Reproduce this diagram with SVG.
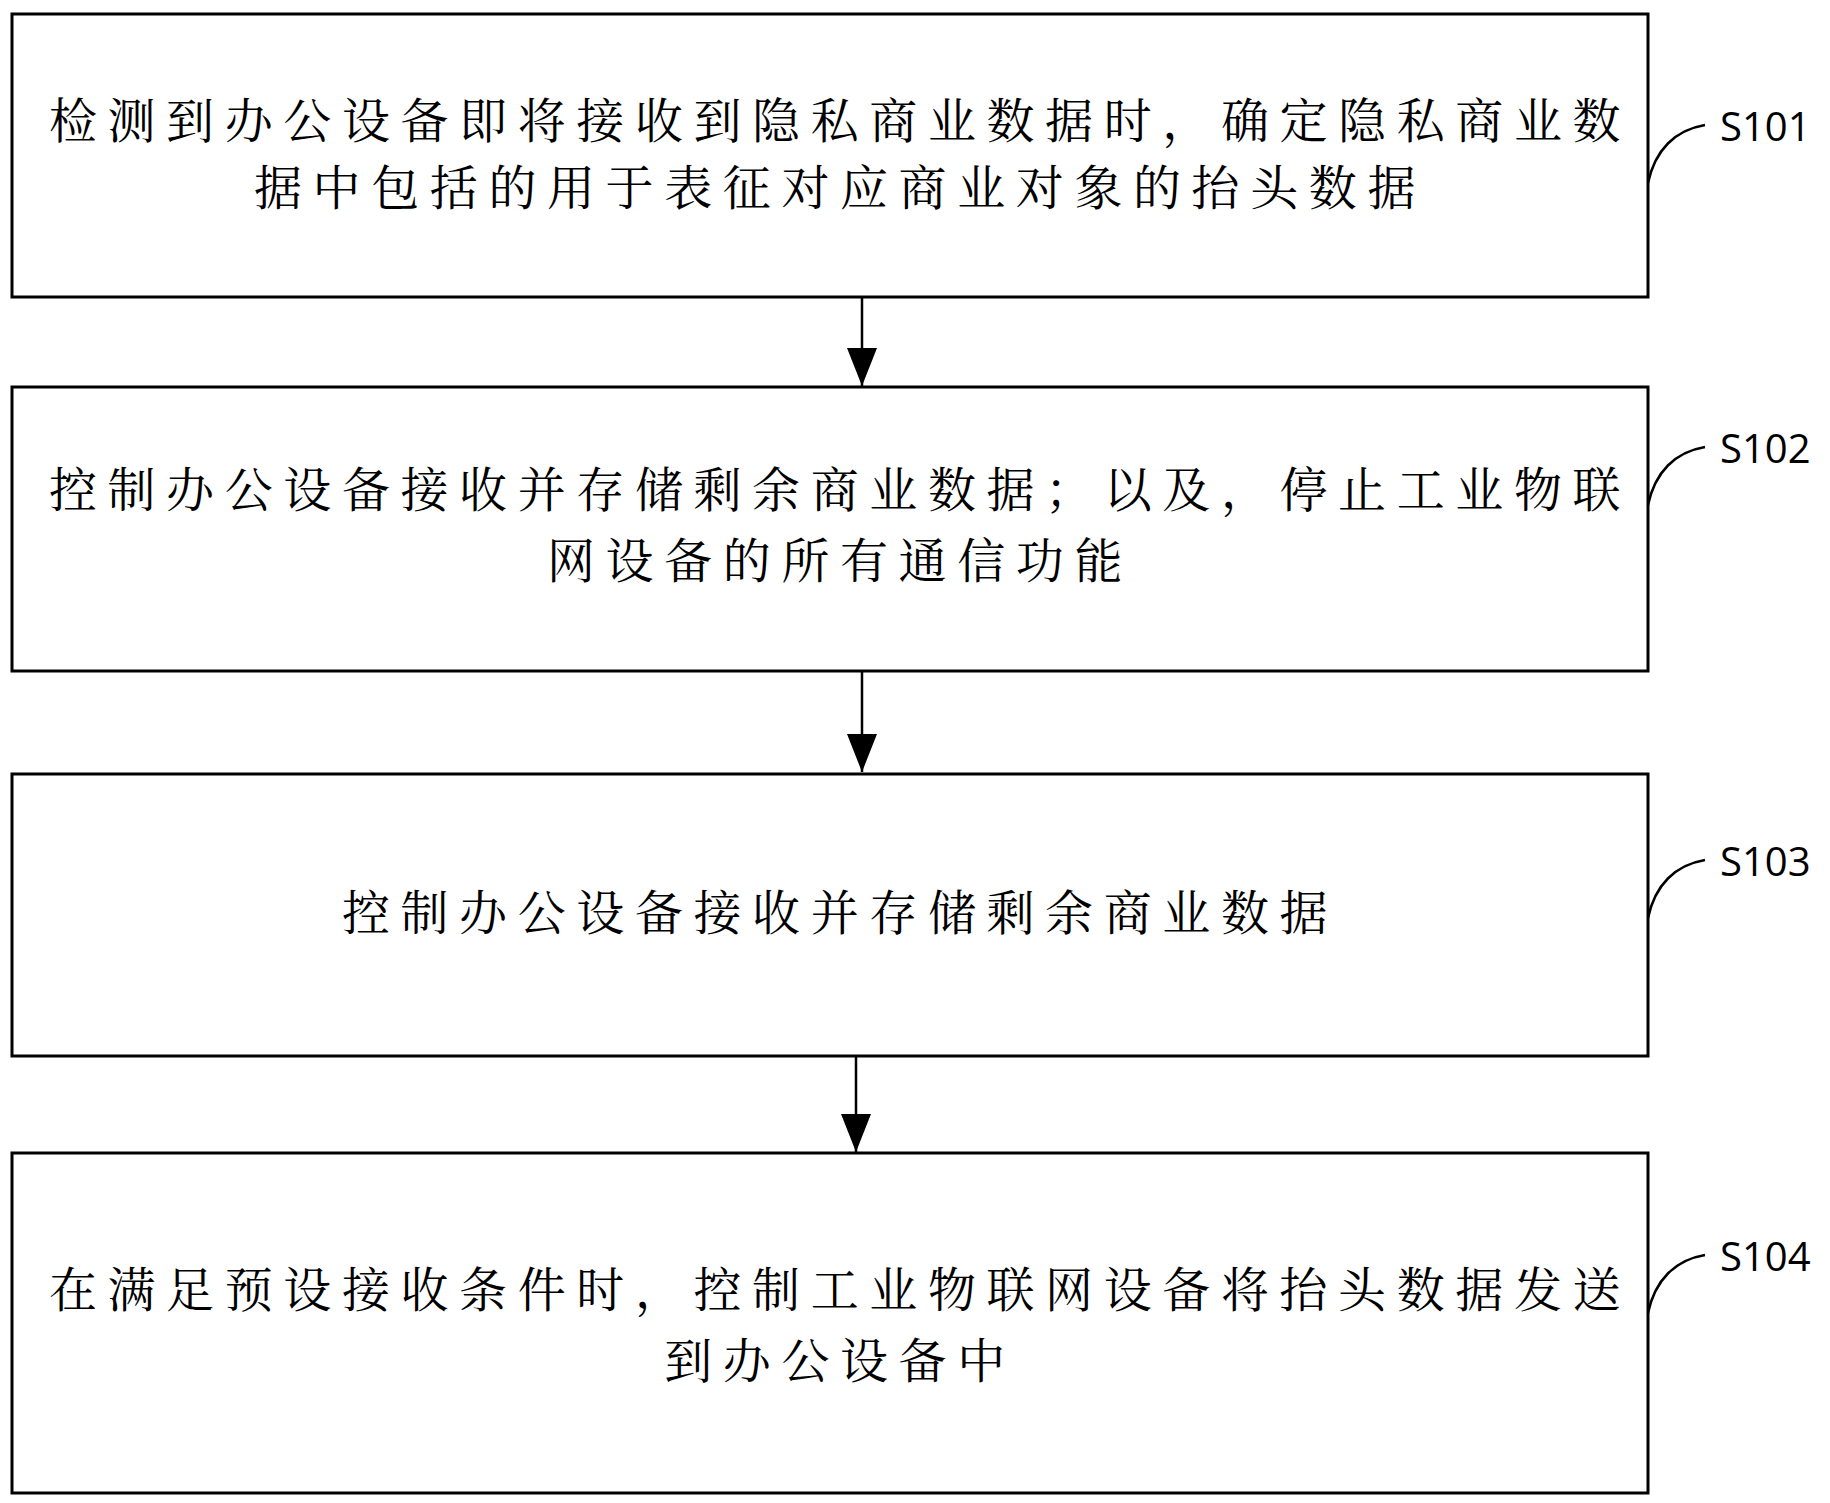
<svg xmlns="http://www.w3.org/2000/svg" width="1830" height="1503" viewBox="0 0 1830 1503">
<style>
.box{fill:#fff;stroke:#000;stroke-width:3}
.t{font-family:"Noto Serif CJK SC","Noto Sans CJK SC",serif;font-size:48px;letter-spacing:10.6px;text-anchor:middle;fill:#000}
.lb{font-family:"Open Sans","Liberation Sans",sans-serif;font-size:40px;fill:#000}
.c{fill:none;stroke:#000;stroke-width:2.5}
.a{stroke:#000;stroke-width:2.5;fill:none}
</style>
<defs><marker id="ah2" markerWidth="38" markerHeight="30" refX="38" refY="15" orient="auto" markerUnits="userSpaceOnUse" viewBox="0 0 38 30"><path d="M0,0 L38,15 L0,30 z" fill="#000"/></marker></defs>
<rect width="1830" height="1503" fill="#fff"/>
<g id="S101"><rect class="box" x="12" y="14" width="1636" height="283"/>
<text class="t" x="840" y="138">检测到办公设备即将接收到隐私商业数据时，确定隐私商业数</text>
<text class="t" x="840" y="205">据中包括的用于表征对应商业对象的抬头数据</text>
<path class="c" d="M1648,183 C1655,150 1675,130 1705,125"/><text class="lb" x="1720" y="141">S101</text></g>
<g id="S102"><rect class="box" x="12" y="387" width="1636" height="284"/>
<text class="t" x="840" y="507">控制办公设备接收并存储剩余商业数据；以及，停止工业物联</text>
<text class="t" x="840" y="578">网设备的所有通信功能</text>
<path class="c" d="M1648,505 C1655,472 1675,452 1705,447"/><text class="lb" x="1720" y="463">S102</text></g>
<g id="S103"><rect class="box" x="12" y="774" width="1636" height="282"/>
<text class="t" x="840" y="930">控制办公设备接收并存储剩余商业数据</text>
<path class="c" d="M1648,918 C1655,885 1675,865 1705,860"/><text class="lb" x="1720" y="876">S103</text></g>
<g id="S104"><rect class="box" x="12" y="1153" width="1636" height="340"/>
<text class="t" x="840" y="1307">在满足预设接收条件时，控制工业物联网设备将抬头数据发送</text>
<text class="t" x="840" y="1378">到办公设备中</text>
<path class="c" d="M1648,1313 C1655,1280 1675,1260 1705,1255"/><text class="lb" x="1720" y="1271">S104</text></g>
<g id="connectors">
<line class="a" x1="862" y1="297" x2="862" y2="386" marker-end="url(#ah2)"/>
<line class="a" x1="862" y1="671" x2="862" y2="772" marker-end="url(#ah2)"/>
<line class="a" x1="856" y1="1056" x2="856" y2="1152" marker-end="url(#ah2)"/>
</g>
</svg>
